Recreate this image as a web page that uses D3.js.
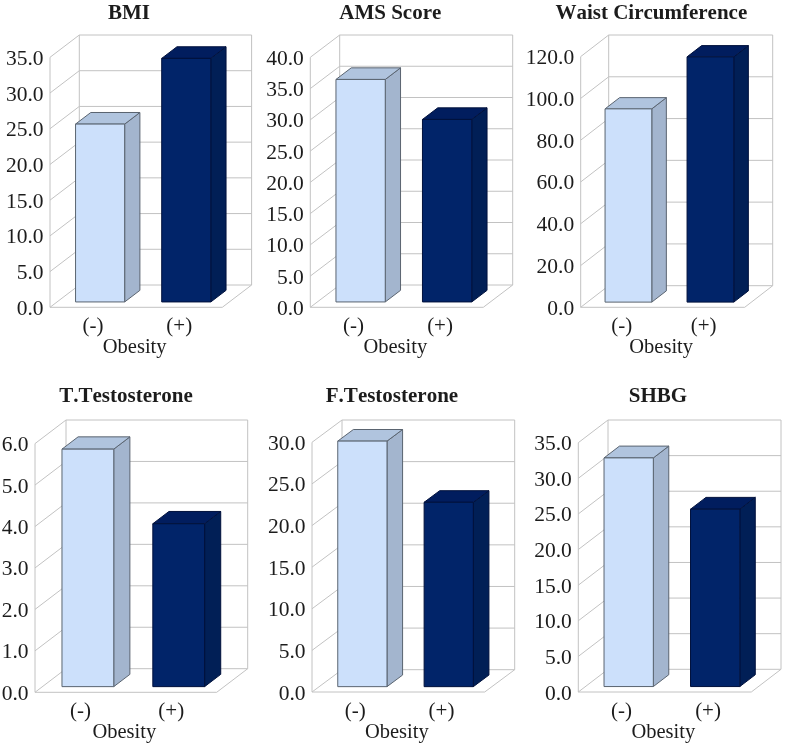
<!DOCTYPE html>
<html>
<head>
<meta charset="utf-8">
<script src="https://cdnjs.cloudflare.com/ajax/libs/d3/7.8.5/d3.min.js"></script>
<style>
    html, body { margin: 0; padding: 0; background: #fff; }
    svg { display: block; filter: blur(0.35px); }
    text { font-family: "Liberation Serif", serif; fill: #1c1c1c; font-kerning: none; }
</style>
</head>
<body>
<div id="container"></div>
<script>
const titles = ["BMI", "AMS Score", "Waist Circumference", "T.Testosterone", "F.Testosterone", "SHBG"];
const categories = ["(-)", "(+)"];
const axisLabel = "Obesity";
const negativeValues = [24.9, 35.6, 92.5, 5.73, 29.5, 32.1];
const positiveValues = [34.1, 29.2, 117.4, 3.93, 22.15, 24.9];
const axisMax = [35, 40, 120, 6, 30, 35];
const tickSteps = [5, 5, 20, 1, 5, 5];

// Box of each panel: front floor left/right, depth offset, floor y and wall top
const frames = [
    { x0: 50, x1: 222.3, dx: 29.3, yFloor: 307.3, dy: 22.3, yTop: 35, titleX: 129, titleY: 19 },
    { x0: 310.3, x1: 483.3, dx: 29.4, yFloor: 307.3, dy: 22.3, yTop: 35, titleX: 390.3, titleY: 19 },
    { x0: 580.7, x1: 744.7, dx: 28, yFloor: 307.3, dy: 21.6, yTop: 35, titleX: 651.3, titleY: 19 },
    { x0: 35, x1: 216.7, dx: 31, yFloor: 692.3, dy: 23.6, yTop: 420, titleX: 126, titleY: 401.7 },
    { x0: 312, x1: 484.7, dx: 30, yFloor: 692, dy: 22.3, yTop: 420, titleX: 392, titleY: 401.7 },
    { x0: 578.3, x1: 751.3, dx: 29.7, yFloor: 692, dy: 22.7, yTop: 420, titleX: 658, titleY: 401.7 }
];

// Bars stand between these fractions of the floor depth
const barNear = 0.24;
const barFar = 0.76;

const gridColor = "#c2c2c2";
const barStyles = [
    { front: "#cce0fb", side: "#a3b5ce", top: "#b0c4de", stroke: "#5a6470" },
    { front: "#012469", side: "#011f56", top: "#011d5e", stroke: "#00113c" }
];

const svg = d3.select("#container").append("svg")
    .attr("width", 785)
    .attr("height", 747);

const poly = (g, pts, fill, stroke) => g.append("polygon")
    .attr("points", pts.map(p => p.join(",")).join(" "))
    .attr("fill", fill)
    .attr("stroke", stroke)
    .attr("stroke-width", 1)
    .attr("stroke-linejoin", "round");

function drawPanel(i) {
    const f = frames[i];
    const g = svg.append("g");
    const values = [negativeValues[i], positiveValues[i]];

    // y scale along the front edge of the left wall
    const y = d3.scaleLinear()
        .domain([0, axisMax[i]])
        .range([f.yFloor, f.yTop + f.dy]);
    const ticks = d3.range(0, axisMax[i] + tickSteps[i] / 2, tickSteps[i]);

    // band scale along the front edge of the floor
    const x = d3.scaleBand()
        .domain(categories)
        .range([f.x0, f.x1])
        .paddingInner(0.43)
        .paddingOuter(0.215);

    // walls and floor
    const line = (x1, y1, x2, y2) => g.append("line")
        .attr("x1", x1).attr("y1", y1).attr("x2", x2).attr("y2", y2)
        .attr("stroke", gridColor).attr("stroke-width", 1);

    ticks.forEach(t => {
        line(f.x0, y(t), f.x0 + f.dx, y(t) - f.dy);
        line(f.x0 + f.dx, y(t) - f.dy, f.x1 + f.dx, y(t) - f.dy);
    });
    line(f.x0, y(0), f.x0, y(axisMax[i]));
    line(f.x0 + f.dx, y(0) - f.dy, f.x0 + f.dx, f.yTop);
    line(f.x1 + f.dx, y(0) - f.dy, f.x1 + f.dx, f.yTop);
    line(f.x0, y(0), f.x1, y(0));
    line(f.x1, y(0), f.x1 + f.dx, y(0) - f.dy);

    // bars
    const depth = barFar - barNear;
    const ddx = f.dx * depth;
    const ddy = f.dy * depth;
    categories.forEach((c, j) => {
        const s = barStyles[j];
        const left = x(c) + f.dx * barNear;
        const right = left + x.bandwidth();
        const base = y(0) - f.dy * barNear;
        const top = base - (y(0) - y(values[j]));
        poly(g, [[right, top], [right + ddx, top - ddy], [right + ddx, base - ddy], [right, base]], s.side, s.stroke);
        poly(g, [[left, top], [left + ddx, top - ddy], [right + ddx, top - ddy], [right, top]], s.top, s.stroke);
        poly(g, [[left, top], [right, top], [right, base], [left, base]], s.front, s.stroke);
    });

    // y axis labels
    const axis = g.append("g")
        .attr("transform", `translate(${f.x0 - 6.5},0)`)
        .call(d3.axisLeft(y).tickValues(ticks).tickSize(0).tickPadding(0).tickFormat(d3.format(".1f")));
    axis.select(".domain").remove();
    axis.selectAll("text")
        .attr("font-size", 21.5)
        .attr("font-family", "Liberation Serif")
        .attr("fill", "#1c1c1c")
        .attr("dy", 7);

    // x axis labels
    g.selectAll(".cat").data(categories).join("text")
        .attr("class", "cat")
        .attr("x", c => x(c) + x.bandwidth() / 2)
        .attr("y", f.yFloor + 24.5)
        .attr("text-anchor", "middle")
        .attr("font-size", 21)
        .text(c => c);

    g.append("text")
        .attr("x", (f.x0 + f.x1) / 2 - 1.5)
        .attr("y", f.yFloor + 45.5)
        .attr("text-anchor", "middle")
        .attr("font-size", 20.5)
        .text(axisLabel);

    g.append("text")
        .attr("x", f.titleX)
        .attr("y", f.titleY)
        .attr("text-anchor", "middle")
        .attr("font-size", 21)
        .attr("font-weight", "bold")
        .text(titles[i]);
}

titles.forEach((t, i) => drawPanel(i));
</script>
</body>
</html>
